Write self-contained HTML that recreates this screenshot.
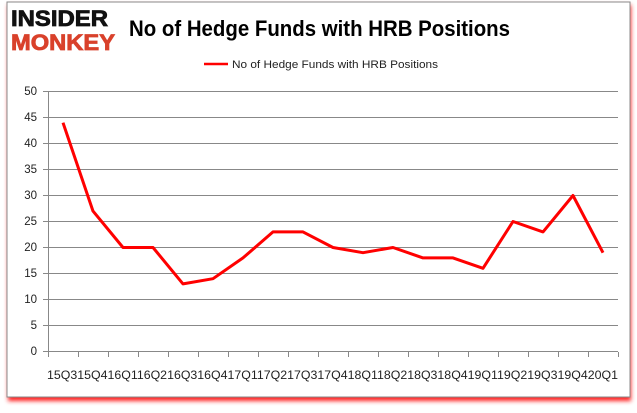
<!DOCTYPE html>
<html><head><style>
body{margin:0;width:637px;height:408px;background:#fff;overflow:hidden;font-family:"Liberation Sans",sans-serif;}
</style></head><body>
<svg width="637" height="408" xmlns="http://www.w3.org/2000/svg">
<defs><filter id="f" x="-5%" y="-5%" width="110%" height="115%"><feGaussianBlur stdDeviation="2"/></filter></defs>
<rect x="8" y="5" width="623" height="396" fill="#ff2020" filter="url(#f)"/>
<rect x="7" y="2" width="623" height="395" fill="#fff" stroke="#888" stroke-width="1"/>
<text x="11" y="26" font-family="Liberation Sans" font-weight="900" font-size="22" fill="#111" stroke="#111" stroke-width="0.8" textLength="97" lengthAdjust="spacingAndGlyphs">INSIDER</text>
<text x="11" y="50" font-family="Liberation Sans" font-weight="900" font-size="22" fill="#d9412b" stroke="#d9412b" stroke-width="0.8" textLength="104" lengthAdjust="spacingAndGlyphs">MONKEY</text>
<text x="129" y="36" font-family="Liberation Sans" font-weight="bold" font-size="22" fill="#000" textLength="381" lengthAdjust="spacingAndGlyphs">No of Hedge Funds with HRB Positions</text>
<line x1="204" y1="64" x2="228" y2="64" stroke="#f00" stroke-width="2.5"/>
<text x="232" y="68" font-size="11" fill="#222" textLength="206" lengthAdjust="spacingAndGlyphs">No of Hedge Funds with HRB Positions</text>
<g stroke="#888" stroke-width="1">
<line x1="43" y1="91.5" x2="618" y2="91.5"/>
<line x1="43" y1="117.5" x2="618" y2="117.5"/>
<line x1="43" y1="143.5" x2="618" y2="143.5"/>
<line x1="43" y1="169.5" x2="618" y2="169.5"/>
<line x1="43" y1="195.5" x2="618" y2="195.5"/>
<line x1="43" y1="221.5" x2="618" y2="221.5"/>
<line x1="43" y1="247.5" x2="618" y2="247.5"/>
<line x1="43" y1="273.5" x2="618" y2="273.5"/>
<line x1="43" y1="299.5" x2="618" y2="299.5"/>
<line x1="43" y1="325.5" x2="618" y2="325.5"/>
<line x1="43" y1="351.5" x2="618" y2="351.5"/>
<line x1="48.5" y1="91" x2="48.5" y2="352"/>
</g>
<g font-size="11.5" fill="#222" text-anchor="end">
<text x="37" y="95">50</text><text x="37" y="121">45</text><text x="37" y="147">40</text><text x="37" y="173">35</text><text x="37" y="199">30</text><text x="37" y="225">25</text><text x="37" y="251">20</text><text x="37" y="277">15</text><text x="37" y="303">10</text><text x="37" y="329">5</text><text x="37" y="355">0</text>
</g>
<g id="ticks" stroke="#888"></g>
<text x="47" y="379" font-size="11.5" fill="#222" textLength="571" lengthAdjust="spacingAndGlyphs">15Q315Q416Q116Q216Q316Q417Q117Q217Q317Q418Q118Q218Q318Q419Q119Q219Q319Q420Q1</text>
<polyline id="ln" fill="none" stroke="#f00" stroke-width="3" stroke-linejoin="round"/>
</svg>
<script>
var v=[44,27,20,20,13,14,18,23,23,20,19,20,18,18,16,25,23,30,19];
var x0=48,cw=570/19,p=[];
for(var i=0;i<19;i++){p.push((x0+cw*(i+0.5)).toFixed(1)+","+(351.5-v[i]*5.2).toFixed(1));}
document.getElementById("ln").setAttribute("points",p.join(" "));
var t="";for(var i=0;i<=19;i++){var x=(x0+cw*i+0.5).toFixed(1);t+='<line x1="'+x+'" y1="352" x2="'+x+'" y2="357"/>';}
document.getElementById("ticks").innerHTML=t;
</script>
</body></html>
